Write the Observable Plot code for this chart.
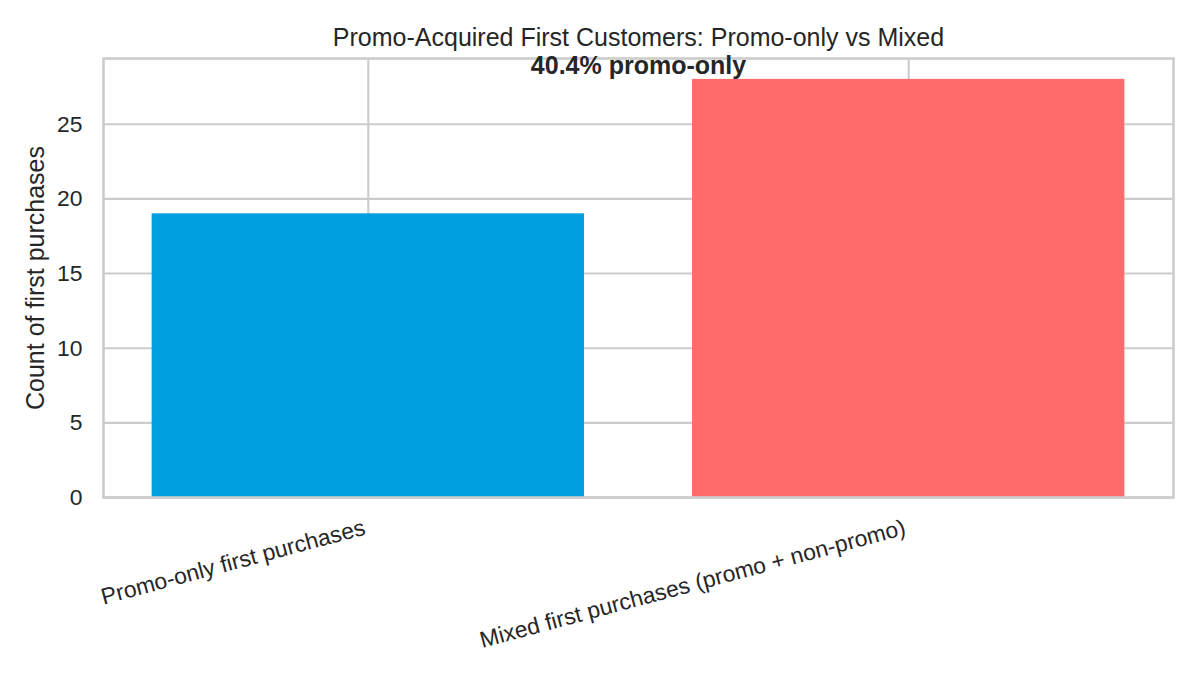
<!DOCTYPE html>
<html>
<head>
<meta charset="utf-8">
<script src="https://cdn.jsdelivr.net/npm/d3@7"></script>
<script src="https://cdn.jsdelivr.net/npm/@observablehq/plot@0.6"></script>
<style>
  html, body { margin: 0; padding: 0; background: #ffffff; }
  #chart { width: 1200px; height: 675px; }
</style>
</head>
<body>
<div id="chart"></div>
<script>
const categories = ["Promo-only first purchases", "Mixed first purchases (promo + non-promo)"];
const counts = [19, 28];
const yTicks = [0, 5, 10, 15, 20, 25];
const barColors = ["#009fe0", "#ff6b6b"];
const title = "Promo-Acquired First Customers: Promo-only vs Mixed";
const yLabel = "Count of first purchases";

const rows = categories.map((c, i) => ({ i, category: c, count: counts[i], color: barColors[i] }));
const share = counts[0] / (counts[0] + counts[1]) * 100;
const annotation = `${share.toFixed(1)}% promo-only`;
const yMax = d3.max(counts) * 1.05;

const font = "'Liberation Sans', Arial, 'DejaVu Sans', sans-serif";
const ink = "#262626";
const gridColor = "#cccccc";

const chart = Plot.plot({
  width: 1200,
  height: 675,
  marginLeft: 103,
  marginRight: 27,
  marginTop: 58,
  marginBottom: 178,
  style: { fontFamily: font, color: ink, background: "#ffffff", overflow: "visible" },
  x: { type: "linear", domain: [-0.49, 1.49], axis: null },
  y: { domain: [0, yMax], axis: null },
  color: { type: "identity" },
  marks: [
    Plot.ruleY(yTicks, { stroke: gridColor, strokeWidth: 2.1 }),
    Plot.ruleX(rows.map(d => d.i), { stroke: gridColor, strokeWidth: 2.1 }),
    Plot.rectY(rows, { x1: d => d.i - 0.4, x2: d => d.i + 0.4, y1: 0, y2: "count", fill: "color" }),
    Plot.frame({ stroke: gridColor, strokeWidth: 2.6 }),
    Plot.axisY(yTicks, { tickSize: 0, tickPadding: 21, fontSize: 22.9, fill: ink, label: null, tickFormat: d => String(d) }),
    Plot.text(rows, {
      x: "i", frameAnchor: "bottom", text: "category", rotate: -15,
      textAnchor: "end", lineAnchor: "top", dx: -6, dy: 21,
      fontSize: 22.9, fill: ink
    }),
    Plot.text([annotation], {
      x: [0.5], y: [d3.max(counts)], text: d => d, lineAnchor: "bottom", dy: -5,
      fontSize: 25, fontWeight: "bold", fill: ink
    }),
    Plot.text([title], {
      frameAnchor: "top", text: d => d, lineAnchor: "bottom", dy: -12.5,
      fontSize: 25, fill: ink
    }),
    Plot.text([yLabel], {
      frameAnchor: "left", text: d => d, rotate: -90, textAnchor: "middle", lineAnchor: "bottom", dx: -60,
      fontSize: 25, fill: ink
    })
  ]
});
document.getElementById("chart").appendChild(chart);
</script>
</body>
</html>
